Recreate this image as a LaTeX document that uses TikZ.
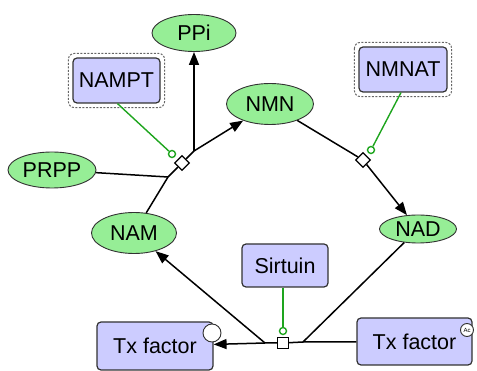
\documentclass[tikz,border=0pt]{standalone}
\usepackage{fontspec}
\setmainfont{Liberation Sans}
\usetikzlibrary{shapes.geometric,arrows.meta,calc}
\definecolor{metfill}{RGB}{150,238,150}
\definecolor{protfill}{RGB}{204,204,255}
\definecolor{modgreen}{RGB}{30,165,30}
\definecolor{edgegray}{RGB}{50,50,50}
\begin{document}
\begin{tikzpicture}[x=1pt,y=-1pt,
  every node/.style={font=\fontsize{21.5}{24}\selectfont},
  metab/.style={ellipse,draw=edgegray,line width=0.9pt,fill=metfill,inner sep=0pt},
  prot/.style={rectangle,rounded corners=4pt,draw=edgegray,line width=1.2pt,fill=protfill,inner sep=0pt},
  cplx/.style={draw=black!60,dashed,dash pattern=on 2pt off 1.5pt,line width=1pt,rounded corners=6pt},
  flow/.style={draw=black,line width=1.5pt},
  prod/.style={flow,-{Triangle[length=13pt,width=10pt]}},
  modline/.style={draw=modgreen,line width=1.4pt},
  modtip/.style={circle,draw=modgreen,line width=1.4pt,fill=white,minimum size=7pt,inner sep=0pt},
  procdia/.style={diamond,draw=black,line width=1.3pt,fill=white,minimum size=15pt,inner sep=0pt},
  procsq/.style={rectangle,draw=black,line width=1.3pt,fill=white,minimum size=11pt,inner sep=0pt},
  statecirc/.style={circle,draw=edgegray,line width=0.9pt,fill=white,inner sep=0pt}]
\useasboundingbox (0,0) rectangle (477,371);

% species
\node[metab,minimum width=84pt,minimum height=37pt] (ppi)  at (194,33)  {PPi};
\node[metab,minimum width=87pt,minimum height=41pt] (nmn)  at (270,104) {NMN};
\node[metab,minimum width=88pt,minimum height=36pt] (prpp) at (52,170)  {PRPP};
\node[metab,minimum width=85pt,minimum height=41pt] (nam)  at (134,233) {NAM};
\node[metab,minimum width=77pt,minimum height=28pt] (nad)  at (418,229) {NAD};

\node[prot,minimum width=87pt,minimum height=45pt] (nampt) at (116.5,80.5) {NAMPT};
\node[prot,minimum width=88pt,minimum height=45pt] (nmnat) at (403,69.5) {NMNAT};
\node[prot,minimum width=86pt,minimum height=43pt] (sirt)  at (285,265.5) {Sirtuin};
\node[prot,minimum width=116pt,minimum height=48pt] (txl) at (155,346) {Tx factor};
\node[prot,minimum width=115pt,minimum height=47pt] (txr) at (414.5,341.5) {Tx factor};

% complex outlines
\draw[cplx] ($(nampt.north west)+(-4,-4)$) rectangle ($(nampt.south east)+(4,4)$);
\draw[cplx] ($(nmnat.north west)+(-4,-4)$) rectangle ($(nmnat.south east)+(4,4)$);

% state variables
\node[statecirc,minimum size=18pt] (txlstate) at (212,333) {};
\node[statecirc,minimum size=13pt,font=\fontsize{6}{6}\selectfont] (txrstate) at (467,330) {Ac};

% NAMPT reaction
\coordinate (a1) at (168,177);
\node[procdia] (r1) at (182,163) {};
\coordinate (a2) at (194,151);
\draw[flow] (nam) -- (a1) -- (r1) -- (a2);
\draw[prod] (a2) -- (nmn);
\draw[flow] (prpp) -- (a1);
\draw[prod] (a2) -- (ppi);
\node[modtip] (m1) at (172,154) {};
\draw[modline] ($(nampt.south)+(1,0)$) -- (m1);

% NMNAT reaction
\node[procdia] (r2) at (363,160) {};
\draw[flow] (nmn) -- (r2);
\draw[prod] (r2) -- (nad);
\node[modtip] (m2) at (371,150) {};
\draw[modline] ($(nmnat.south)+(-2,0)$) -- (m2);

% Sirtuin deacetylation
\coordinate (bin)  at (303,342);
\coordinate (bout) at (265,343);
\node[procsq] (r3) at (283,343) {};
\draw[flow] (nad) -- (bin);
\draw[flow] (txr) -- (bin) -- (r3) -- (bout);
\draw[prod] (bout) -- (txl);
\draw[prod] (bout) -- (nam);
\node[modtip] (m3) at (283,331) {};
\draw[modline] ($(sirt.south)+(-2,0)$) -- (m3);
\end{tikzpicture}
\end{document}
